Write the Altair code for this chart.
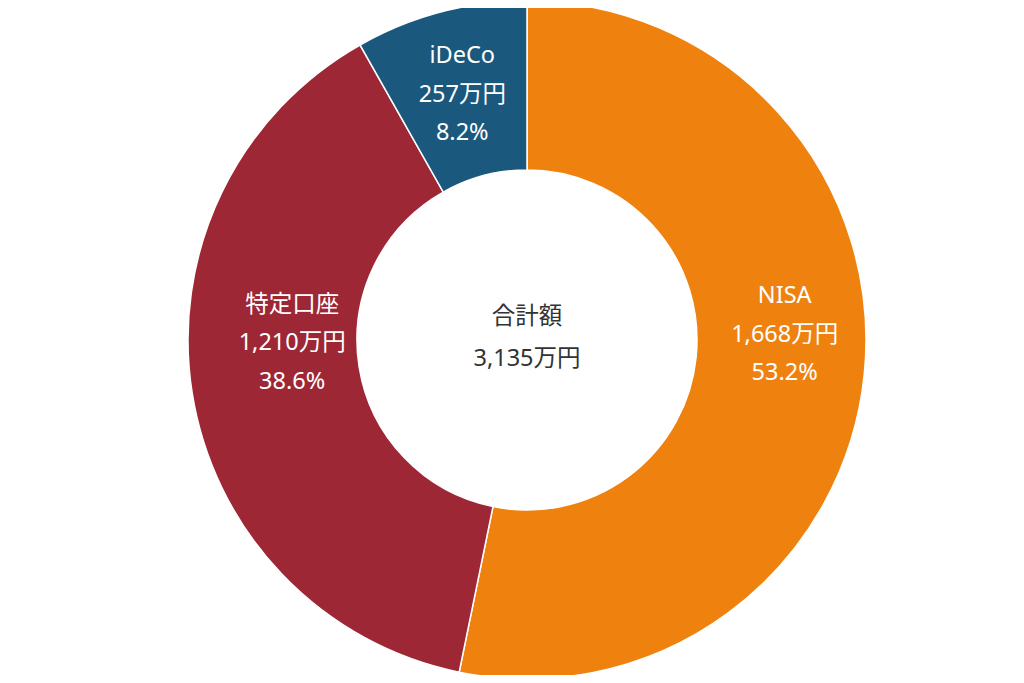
import altair as alt
import pandas as pd

categories = ["NISA", "特定口座", "iDeCo"]
values = [1668, 1210, 257]
percents = ["53.2%", "38.6%", "8.2%"]
order = [0, 1, 2]
colors = ["#EF820F", "#9D2735", "#1A597D"]
center_title = "合計額"
total_label = "3,135万円"

df = pd.DataFrame({"category": categories, "value": values, "pct": percents, "order": order})
total = sum(values)

CX, CY = 519, 332
R_OUT, R_IN, R_LAB = 339, 170, 258
FONT = "Noto Sans, Noto Sans CJK JP"
FS = 23.5
LH = 38.5

base = alt.Chart(df)

arcs = base.mark_arc(outerRadius=R_OUT, innerRadius=R_IN, stroke="white", strokeWidth=1.5).encode(
    theta=alt.Theta("value:Q", stack=True),
    order=alt.Order("order:Q"),
    color=alt.Color("category:N", scale=alt.Scale(domain=categories, range=colors), legend=None),
    x=alt.value(CX),
    y=alt.value(CY),
)

lab = base.transform_window(
    cum="sum(value)", sort=[alt.SortField("order")]
).transform_calculate(
    mid="datum.cum - datum.value / 2",
    label="datum.category + '\\n' + format(datum.value, ',') + '万円' + '\\n' + datum.pct",
)

# small per-label nudges (pixels) relative to the mid-angle anchor, first line placed at anchor
offsets = {"NISA": (1, -31 - LH), "特定口座": (20, -37 - LH), "iDeCo": (1, 4 - LH)}
layers = []
for cat in categories:
    dx, dy = offsets[cat]
    layers.append(
        lab.transform_filter(alt.datum.category == cat).mark_text(
            radius=R_LAB, dx=dx, dy=dy, font=FONT, fontSize=FS, lineHeight=LH,
            color="white", align="center", baseline="middle", lineBreak="\n",
        ).encode(
            theta=alt.Theta("mid:Q", scale=alt.Scale(domain=[0, total], range=[0, 6.283185307])),
            text="label:N",
            x=alt.value(CX),
            y=alt.value(CY),
        )
    )

center = alt.Chart(pd.DataFrame({"t": [center_title + "\n" + total_label]})).mark_text(
    font=FONT, fontSize=FS, lineHeight=42, color="#333333", align="center", baseline="middle",
    lineBreak="\n",
).encode(text="t:N", x=alt.value(CX), y=alt.value(CY - 23))

chart = alt.layer(arcs, *layers, center).properties(
    width=1008, height=667, padding=0, autosize=alt.AutoSizeParams(type="none"), background="white"
).configure_view(stroke=None)

chart.save("out.html", embed_options={"renderer": "svg", "actions": False})
